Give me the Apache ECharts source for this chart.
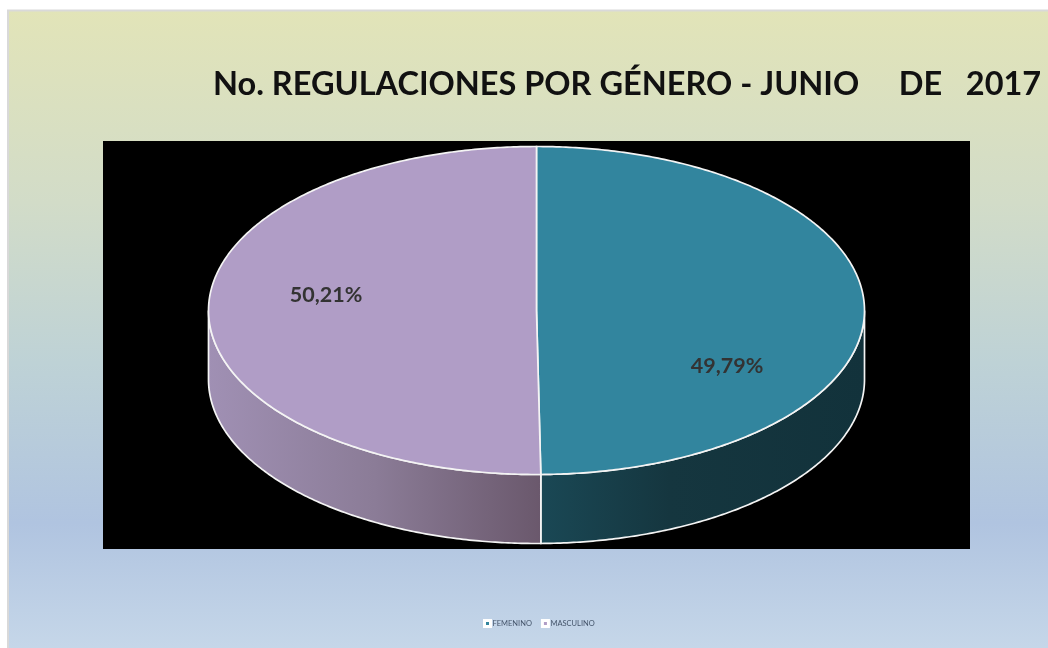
<!DOCTYPE html>
<html>
<head>
<meta charset="utf-8">
<style>
html, body { margin: 0; padding: 0; background: #fff; }
#chart { width: 1048px; height: 648px; }
</style>
<script src="https://cdn.jsdelivr.net/npm/echarts@6/dist/echarts.min.js"></script>
</head>
<body>
<div id="chart"></div>
<script>
var categories = ['FEMENINO', 'MASCULINO'];
var values = [49.79, 50.21];
var chartTitle = 'No. REGULACIONES POR GÉNERO - JUNIO     DE   2017';

var topColors = ['#32859e', '#b09dc6'];
var sideStops = [
    [[0, '#1a4855'], [0.4, '#15363f'], [1, '#12323b']],
    [[0, '#a090b4'], [0.5, '#8b7c97'], [1, '#6a586c']]
];
var labelPos = [[727, 366], [326, 295]];

var cx = 536.5, cy = 310.5, rx = 328, ry = 164, depth = 69;
var total = values[0] + values[1];

function rimPoint(angle, drop) {
    return [cx + rx * Math.sin(angle), cy - ry * Math.cos(angle) + drop];
}

function arcPoints(from, to, drop) {
    var pts = [];
    var steps = Math.max(2, Math.ceil(Math.abs(to - from) / 0.01));
    for (var i = 0; i <= steps; i++) {
        pts.push(rimPoint(from + (to - from) * i / steps, drop));
    }
    return pts;
}

function renderSlice(index) {
    return function (params, api) {
        var before = 0;
        for (var i = 0; i < index; i++) {
            before += values[i];
        }
        var start = before / total * Math.PI * 2;
        var end = (before + api.value(0)) / total * Math.PI * 2;
        var children = [];

        // the wall is only visible on the front half of the ellipse
        var wallFrom = Math.max(start, Math.PI / 2);
        var wallTo = Math.min(end, Math.PI * 1.5);
        if (wallTo > wallFrom) {
            var wall = arcPoints(wallFrom, wallTo, 0).concat(arcPoints(wallTo, wallFrom, depth));
            children.push({
                type: 'polygon',
                shape: { points: wall },
                style: {
                    fill: {
                        type: 'linear', x: 0, y: 0, x2: 1, y2: 0,
                        colorStops: sideStops[index].map(function (s) {
                            return { offset: s[0], color: s[1] };
                        })
                    },
                    stroke: '#f4f4f4',
                    lineWidth: 1.7
                }
            });
        }

        children.push({
            type: 'polygon',
            shape: { points: [[cx, cy]].concat(arcPoints(start, end, 0)) },
            style: { fill: topColors[index], stroke: '#f4f4f4', lineWidth: 1.7 }
        });
        children.push({
            type: 'text',
            z2: 10,
            style: {
                x: labelPos[index][0],
                y: labelPos[index][1],
                text: api.value(0).toFixed(2).replace('.', ',') + '%',
                fill: '#333333',
                font: 'bold 21.5px Lato, "Open Sans", sans-serif',
                align: 'center',
                verticalAlign: 'middle'
            }
        });
        return { type: 'group', children: children };
    };
}

var chart = echarts.init(document.getElementById('chart'), null, { renderer: 'canvas' });

var option = {
    animation: false,
    backgroundColor: '#ffffff',
    title: {
        text: chartTitle,
        left: 208,
        top: 63,
        textStyle: {
            fontFamily: 'Lato, "Open Sans", sans-serif',
            fontWeight: 'bold',
            fontSize: 32.5,
            color: '#111111'
        }
    },
    legend: {
        left: 478,
        top: 614,
        itemWidth: 6,
        itemHeight: 6,
        itemGap: 9,
        icon: 'rect',
        selectedMode: false,
        textStyle: { fontFamily: 'Lato, sans-serif', fontSize: 7.5, color: '#44546a', padding: [0, 0, 0, -3] },
        data: categories.map(function (name, i) {
            return { name: name, itemStyle: { color: topColors[i], borderColor: '#ffffff', borderWidth: 3 } };
        })
    },
    graphic: [
        {
            type: 'rect',
            z: -10,
            shape: { x: 8, y: 10.5, width: 1042, height: 640 },
            style: {
                fill: {
                    type: 'linear', x: 0, y: 0, x2: 0, y2: 1,
                    colorStops: [
                        { offset: 0, color: '#e2e4b8' },
                        { offset: 0.3, color: '#d2dcc8' },
                        { offset: 0.55, color: '#bed2d6' },
                        { offset: 0.8, color: '#b0c4e0' },
                        { offset: 1, color: '#c6d7e9' }
                    ]
                },
                stroke: '#d9d9d9',
                lineWidth: 2
            }
        },
        {
            type: 'rect',
            z: -9,
            shape: { x: 103, y: 141, width: 867, height: 408 },
            style: { fill: '#000000' }
        }
    ],
    series: categories.map(function (name, i) {
        return {
            type: 'custom',
            name: name,
            coordinateSystem: 'none',
            silent: true,
            itemStyle: { color: topColors[i] },
            renderItem: renderSlice(i),
            data: [[values[i]]]
        };
    })
};

chart.setOption(option);

window.onresize = function () {
    chart.resize();
};
</script>
</body>
</html>
